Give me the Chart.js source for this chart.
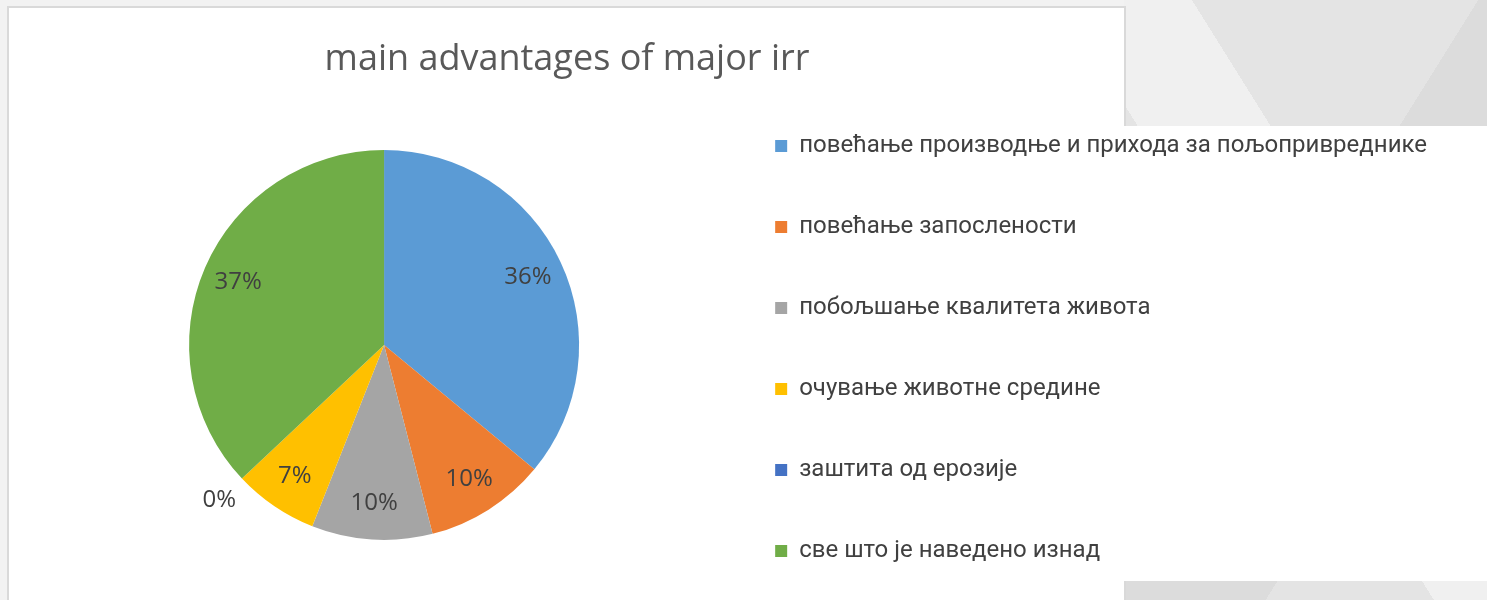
<!DOCTYPE html>
<html>
<head>
<meta charset="utf-8">
<title>main advantages of major irr</title>
<script src="https://cdn.jsdelivr.net/npm/chart.js@4.4.1/dist/chart.umd.min.js"></script>
<style>
  html, body { margin: 0; padding: 0; width: 1487px; height: 600px; overflow: hidden; }
  body { position: relative; background: #f2f2f2; }
  /* grey slide pattern on the right */
  #bgRight {
    position: absolute; left: 1124px; top: 0; width: 363px; height: 600px;
    background:
      linear-gradient(58deg, transparent 42%, rgba(255,255,255,0.45) 42%, rgba(255,255,255,0.45) 60%, transparent 60%),
      linear-gradient(-58deg, transparent 30%, rgba(0,0,0,0.035) 30%, rgba(0,0,0,0.035) 52%, transparent 52%),
      #e4e4e4;
  }
  #panel {
    position: absolute; left: 7px; top: 6px; width: 1115px; height: 600px;
    background: #fff; border: 2px solid #d9d9d9;
  }
  #legendBox {
    position: absolute; left: 740px; top: 126px; width: 747px; height: 455px; background: #fff;
  }
  #wrap { position: absolute; left: 0; top: 0; width: 1487px; height: 620px; }
</style>
</head>
<body>
<div id="bgRight"></div>
<div id="panel"></div>
<div id="legendBox"></div>
<div id="wrap"><canvas id="pieChart" width="1487" height="620"></canvas></div>

<script>
// dados do gráfico
var chartTitle = 'main advantages of major irr';
var categorias = [
    'повећање производње и прихода за пољопривреднике',
    'повећање запослености',
    'побољшање квалитета живота',
    'очување животне средине',
    'заштита од ерозије',
    'све што је наведено изнад'
];
var valores = [36, 10, 10, 7, 0, 37];
var cores = ['#5B9BD5', '#ED7D31', '#A5A5A5', '#FFC000', '#4472C4', '#70AD47'];

// titulo desenhado sobre o painel branco
var tituloPlugin = {
    id: 'tituloPlugin',
    afterDraw: function (chart) {
        var ctx = chart.ctx;
        ctx.save();
        ctx.font = '36px "Open Sans"';
        ctx.fillStyle = '#595959';
        ctx.textAlign = 'center';
        ctx.textBaseline = 'middle';
        ctx.fillText(chartTitle, 567, 60);
        ctx.restore();
    }
};

// rotulos de porcentagem
var rotulosPlugin = {
    id: 'rotulosPlugin',
    afterDatasetsDraw: function (chart) {
        var ctx = chart.ctx;
        var meta = chart.getDatasetMeta(0);
        var dados = chart.data.datasets[0].data;
        var total = dados.reduce(function (a, b) { return a + b; }, 0);
        ctx.save();
        ctx.font = '24px "Open Sans"';
        ctx.fillStyle = '#404040';
        ctx.textAlign = 'center';
        ctx.textBaseline = 'middle';
        meta.data.forEach(function (arc, i) {
            var p = arc.getProps(['x', 'y', 'startAngle', 'endAngle', 'outerRadius'], true);
            var meio = (p.startAngle + p.endAngle) / 2;
            var r = dados[i] > 0 ? p.outerRadius * 0.815 : p.outerRadius * 1.16;
            var txt = Math.round(dados[i] / total * 100) + '%';
            ctx.fillText(txt, p.x + Math.cos(meio) * r, p.y + Math.sin(meio) * r);
        });
        ctx.restore();
    }
};

var ctx = document.getElementById('pieChart').getContext('2d');
var pieChart = new Chart(ctx, {
    type: 'pie',
    data: {
        labels: categorias,
        datasets: [{
            data: valores,
            backgroundColor: cores,
            borderWidth: 0,
            radius: 195
        }]
    },
    options: {
        responsive: false,
        devicePixelRatio: 1,
        animation: false,
        layout: {
            padding: { left: 50, right: 50, top: 70, bottom: 0 }
        },
        plugins: {
            title: { display: false },
            tooltip: { enabled: false },
            legend: {
                position: 'right',
                align: 'end',
                maxWidth: 900,
                labels: {
                    boxWidth: 12,
                    boxHeight: 12,
                    padding: 57,
                    color: '#404040',
                    font: { family: 'Roboto', size: 24 }
                }
            }
        }
    },
    plugins: [tituloPlugin, rotulosPlugin]
});
</script>
</body>
</html>
